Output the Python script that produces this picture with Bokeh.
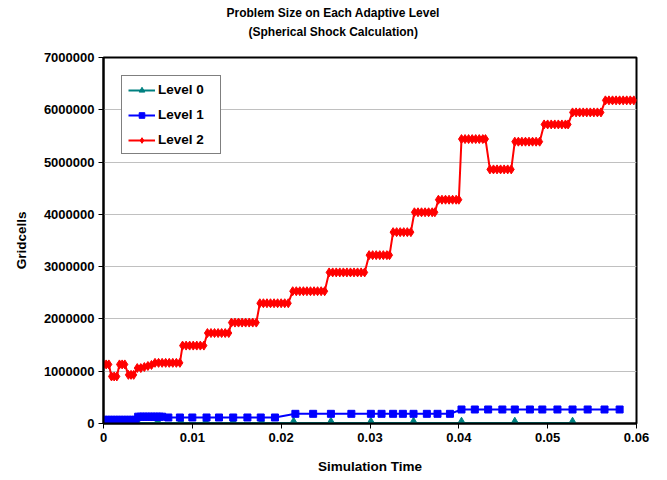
from bokeh.plotting import figure
from bokeh.models import (Range1d, FixedTicker, Legend, LegendItem, Title,
                          BasicTickFormatter)
from bokeh.embed import file_html
from bokeh.resources import INLINE

# ---------------- data ----------------
title_line1 = "Problem Size on Each Adaptive Level"
title_line2 = "(Spherical Shock Calculation)"
x_label = "Simulation Time"
y_label = "Gridcells"
series_names = ["Level 0", "Level 1", "Level 2"]

x_ticks = [0, 0.01, 0.02, 0.03, 0.04, 0.05, 0.06]
y_ticks = [0, 1000000, 2000000, 3000000, 4000000, 5000000, 6000000, 7000000]

level0_time = [0.0000, 0.0018, 0.0038, 0.0061, 0.0087, 0.0115, 0.0146, 0.0178,
               0.0214, 0.0256, 0.0301, 0.0349, 0.0403, 0.0463, 0.0528]
level0_cells = [10000, 10000, 10000, 10000, 10000, 10000, 10000, 10000,
                10000, 10000, 10000, 10000, 10000, 10000, 10000]

level1_time = [0.0000, 0.0003, 0.0006, 0.0009, 0.0012, 0.0015, 0.0018, 0.0021,
               0.0024, 0.0027, 0.0030, 0.0033, 0.0036,
               0.0039, 0.0042, 0.0045, 0.0048, 0.0051, 0.0054, 0.0057, 0.0060,
               0.0063, 0.0066,
               0.0073, 0.0086, 0.0100, 0.0116, 0.0130, 0.0146, 0.0162, 0.0177,
               0.0193,
               0.0216, 0.0236, 0.0256, 0.0279, 0.0301, 0.0313, 0.0326, 0.0337,
               0.0349, 0.0364, 0.0376, 0.0390,
               0.0403, 0.0418, 0.0433, 0.0449, 0.0463, 0.0480, 0.0494, 0.0511,
               0.0528, 0.0545, 0.0564, 0.0581]
level1_cells = [70000, 70000, 70000, 70000, 70000, 70000, 70000, 70000,
                70000, 70000, 70000, 70000, 70000,
                130000, 130000, 130000, 130000, 130000, 130000, 130000, 130000,
                130000, 130000,
                115000, 115000, 115000, 115000, 115000, 115000, 115000, 115000,
                115000,
                185000, 185000, 185000, 185000, 185000, 185000, 185000, 185000,
                185000, 185000, 185000, 185000,
                268000, 268000, 268000, 268000, 268000, 268000, 268000, 268000,
                268000, 268000, 268000, 268000]

level2_time = [0.0000, 0.0003, 0.0006,
               0.0009, 0.0012, 0.0015,
               0.0018, 0.0021, 0.0024,
               0.0028, 0.0031, 0.0034,
               0.0038, 0.0042, 0.0046, 0.0050, 0.0054,
               0.0058, 0.0062, 0.0066, 0.0070, 0.0074, 0.0078, 0.0082, 0.0086,
               0.0089, 0.0093, 0.0097, 0.0101, 0.0105, 0.0109, 0.0113,
               0.0117, 0.0121, 0.0125, 0.0129, 0.0133, 0.0137, 0.0141,
               0.0144, 0.0148, 0.0152, 0.0156, 0.0160, 0.0164, 0.0168, 0.0172,
               0.0176, 0.0180, 0.0184, 0.0188, 0.0192, 0.0196, 0.0200, 0.0204, 0.0208,
               0.0213, 0.0217, 0.0221, 0.0225, 0.0229, 0.0233, 0.0237, 0.0241, 0.0245, 0.0249,
               0.0254, 0.0258, 0.0262, 0.0266, 0.0270, 0.0274, 0.0278, 0.0282, 0.0286, 0.0290, 0.0294,
               0.0299, 0.0303, 0.0307, 0.0311, 0.0315, 0.0319, 0.0322,
               0.0326, 0.0330, 0.0334, 0.0338, 0.0342, 0.0346,
               0.0350, 0.0354, 0.0358, 0.0362, 0.0366, 0.0370, 0.0373,
               0.0377, 0.0381, 0.0385, 0.0389, 0.0393, 0.0397, 0.0400,
               0.0403, 0.0407, 0.0411, 0.0415, 0.0419, 0.0423, 0.0427, 0.0430,
               0.0435, 0.0439, 0.0443, 0.0447, 0.0451, 0.0455, 0.0459,
               0.0463, 0.0467, 0.0471, 0.0475, 0.0479, 0.0483, 0.0487, 0.0491,
               0.0496, 0.0500, 0.0504, 0.0508, 0.0512, 0.0516, 0.0520, 0.0523,
               0.0528, 0.0532, 0.0536, 0.0540, 0.0544, 0.0548, 0.0552, 0.0556, 0.0560,
               0.0565, 0.0569, 0.0573, 0.0577, 0.0581, 0.0585, 0.0589, 0.0593, 0.0597]
level2_cells = [1130000, 1130000, 1130000,
                900000, 900000, 900000,
                1130000, 1130000, 1130000,
                930000, 930000, 930000,
                1060000, 1060000, 1080000, 1100000, 1120000,
                1160000, 1160000, 1160000, 1160000, 1160000, 1160000, 1160000, 1160000,
                1490000, 1490000, 1490000, 1490000, 1490000, 1490000, 1490000,
                1730000, 1730000, 1730000, 1730000, 1730000, 1730000, 1730000,
                1930000, 1930000, 1930000, 1930000, 1930000, 1930000, 1930000, 1930000,
                2300000, 2300000, 2300000, 2300000, 2300000, 2300000, 2300000, 2300000, 2300000,
                2530000, 2530000, 2530000, 2530000, 2530000, 2530000, 2530000, 2530000, 2530000, 2530000,
                2890000, 2890000, 2890000, 2890000, 2890000, 2890000, 2890000, 2890000, 2890000, 2890000, 2890000,
                3220000, 3220000, 3220000, 3220000, 3220000, 3220000, 3220000,
                3660000, 3660000, 3660000, 3660000, 3660000, 3660000,
                4040000, 4040000, 4040000, 4040000, 4040000, 4040000, 4040000,
                4280000, 4280000, 4280000, 4280000, 4280000, 4280000, 4280000,
                5440000, 5440000, 5440000, 5440000, 5440000, 5440000, 5440000, 5440000,
                4860000, 4860000, 4860000, 4860000, 4860000, 4860000, 4860000,
                5390000, 5390000, 5390000, 5390000, 5390000, 5390000, 5390000, 5390000,
                5720000, 5720000, 5720000, 5720000, 5720000, 5720000, 5720000, 5720000,
                5950000, 5950000, 5950000, 5950000, 5950000, 5950000, 5950000, 5950000, 5950000,
                6180000, 6180000, 6180000, 6180000, 6180000, 6180000, 6180000, 6180000, 6180000]

# ---------------- figure ----------------
FONT = "Liberation Sans"
FS = "13.5px"
TFS = "12px"

p = figure(width=660, height=478, output_backend="svg", toolbar_location=None,
           x_range=Range1d(0, 0.06), y_range=Range1d(0, 7000000),
           min_border_left=103, min_border_right=24, min_border_top=57,
           min_border_bottom=55)
p.background_fill_color = "white"
p.border_fill_color = "white"
p.outline_line_color = "black"
p.outline_line_width = 2

# axes
p.xaxis.ticker = FixedTicker(ticks=x_ticks)
p.yaxis.ticker = FixedTicker(ticks=y_ticks)
p.yaxis.formatter = BasicTickFormatter(use_scientific=False)
p.xaxis.major_label_overrides = {0: "0"}
for ax in (p.xaxis[0], p.yaxis[0]):
    ax.axis_line_color = "black"
    ax.axis_line_width = 2
    ax.major_tick_line_color = "black"
    ax.major_tick_in = 0
    ax.major_tick_out = 5
    ax.minor_tick_line_color = None
    ax.major_label_text_font = FONT
    ax.major_label_text_font_style = "bold"
    ax.major_label_text_font_size = "13px"
    ax.major_label_text_color = "black"
    ax.axis_label_text_font = FONT
    ax.axis_label_text_font_style = "bold"
    ax.axis_label_text_font_size = FS
    ax.axis_label_text_color = "black"
p.xaxis.axis_label = x_label
p.yaxis.axis_label = y_label
p.xaxis.major_label_standoff = 4
p.xaxis.axis_label_standoff = 14
p.yaxis.major_label_standoff = 4
p.yaxis.axis_label_standoff = 12

p.xgrid.grid_line_color = None
p.ygrid.grid_line_color = "#c0c0c0"
p.ygrid.grid_line_width = 1

# series
teal, blue, red = "#008080", "#0000FF", "#FF0000"
l0 = p.line(level0_time, level0_cells, line_color=teal, line_width=2)
m0 = p.scatter(level0_time, level0_cells, marker="triangle", size=10,
               fill_color=teal, line_color=teal)
l1 = p.line(level1_time, level1_cells, line_color=blue, line_width=2)
m1 = p.scatter(level1_time, level1_cells, marker="square", size=7,
               fill_color=blue, line_color=blue)
l2 = p.line(level2_time, level2_cells, line_color=red, line_width=2)
m2 = p.scatter(level2_time, level2_cells, marker="diamond", size=9,
               fill_color=red, line_color=red)

legend = Legend(items=[
    LegendItem(label=series_names[0], renderers=[l0, m0]),
    LegendItem(label=series_names[1], renderers=[l1, m1]),
    LegendItem(label=series_names[2], renderers=[l2, m2]),
], location=(18, 269), orientation="vertical")
legend.margin = 0
legend.padding = 6
legend.spacing = 10
legend.glyph_height = 14
legend.glyph_width = 27
legend.label_height = 14
legend.label_width = 56
legend.label_standoff = 3
legend.label_text_font = FONT
legend.label_text_font_style = "bold"
legend.label_text_font_size = FS
legend.label_text_color = "black"
legend.border_line_color = "black"
legend.border_line_width = 1
legend.background_fill_color = "white"
legend.background_fill_alpha = 1
p.add_layout(legend, "center")

# title: two lines centred on the page (spacer, line 2, line 1 stacked upward)
p.add_layout(Title(text=" ", text_font_size="1px", standoff=13), "above")
p.add_layout(Title(text=title_line2, align="left", offset=145,
                   vertical_align="middle", standoff=3,
                   text_font=FONT, text_font_style="bold",
                   text_font_size=TFS, text_color="black"), "above")
p.add_layout(Title(text=title_line1, align="left", offset=123,
                   vertical_align="middle", standoff=3,
                   text_font=FONT, text_font_style="bold",
                   text_font_size=TFS, text_color="black"), "above")

open("out.html", "w").write(file_html(p, INLINE))
